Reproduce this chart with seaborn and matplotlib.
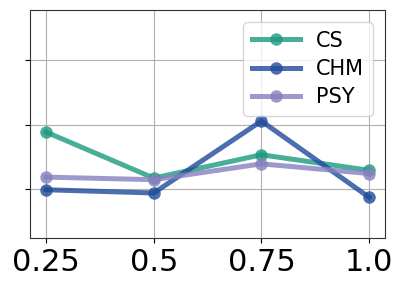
import matplotlib
matplotlib.use("Agg")
import matplotlib.pyplot as plt
import pandas as pd
import seaborn as sns

ratios = [0.25, 0.5, 0.75, 1.0]
tick_labels = ["0.25", "0.5", "0.75", "1.0"]
cs = [0.577, 0.435, 0.507, 0.459]
chm = [0.399, 0.389, 0.611, 0.376]
psy = [0.438, 0.430, 0.479, 0.449]
names = ["CS", "CHM", "PSY"]
colors = ["#1b9a7e", "#1f4a9a", "#8680c0"]

df = pd.DataFrame({
    "ratio": ratios * 3,
    "score": cs + chm + psy,
    "dept": [n for n in names for _ in ratios],
})

plt.rcParams["font.family"] = ["DejaVu Sans"]
fig, ax = plt.subplots(figsize=(4.05, 2.91), dpi=100)

sns.lineplot(data=df, x="ratio", y="score", hue="dept", hue_order=names,
             palette=colors, marker="o", markersize=9, markeredgewidth=0,
             linewidth=3.6, alpha=0.8, ax=ax)

ax.grid(True, color="#b0b0b0", linewidth=0.8)
ax.set_axisbelow(True)
ax.set_xticks(ratios)
ax.set_xticklabels(tick_labels, fontsize=22)
ax.set_yticks([0.4, 0.6, 0.8])
ax.set_yticklabels([])
ax.set_ylim(0.25, 0.954)
ax.set_xlabel("")
ax.set_ylabel("")
for s in ax.spines.values():
    s.set_color("#333333")

ax.legend(loc="upper right", fontsize=15, handlelength=2.3,
          borderaxespad=0.6, labelspacing=0.4)

fig.subplots_adjust(left=0.074, right=0.951, bottom=0.182, top=0.966)
fig.savefig("out.png", dpi=100)
